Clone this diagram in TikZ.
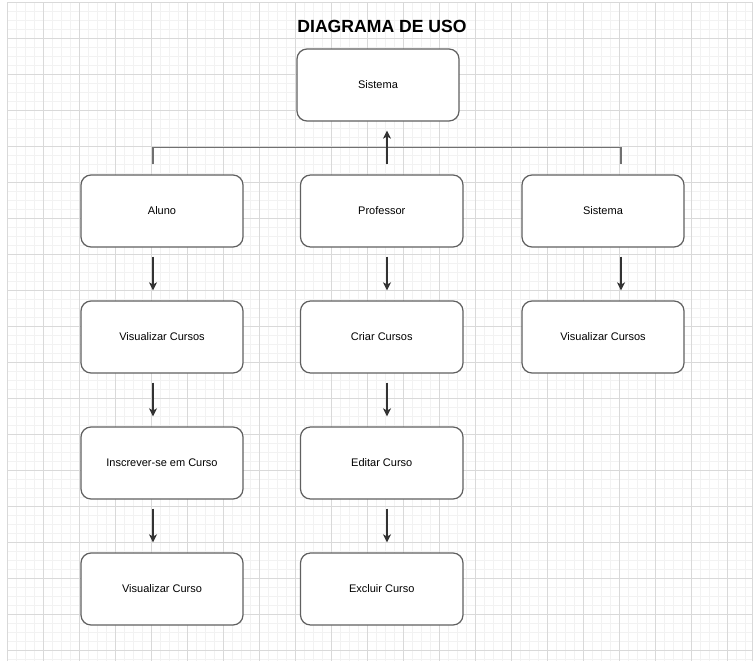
\documentclass[tikz,border=0pt]{standalone}
\usepackage{fontspec}
\setmainfont{Liberation Sans}
\usetikzlibrary{arrows.meta,calc}
\definecolor{boxgray}{HTML}{606060}
\definecolor{arrowgray}{HTML}{333333}
\definecolor{busgray}{HTML}{707070}
\definecolor{majorgrid}{HTML}{D9D9D9}
\definecolor{minorgrid}{HTML}{F2F2F2}
\begin{document}
\begin{tikzpicture}[x=1pt,y=-1pt,
  box/.style={draw=boxgray, line width=1.2pt, rounded corners=10pt, fill=white,
    minimum width=162pt, minimum height=72pt, inner sep=0pt,
    font=\fontsize{11}{13}\selectfont},
  flow/.style={draw=arrowgray, line width=1.2pt, -{Stealth[length=8pt,width=8pt,inset=2pt]}},
  bus/.style={draw=busgray, line width=1.5pt},
  titlestyle/.style={font=\fontsize{17.6}{20}\selectfont\bfseries, inner sep=0pt}]
\useasboundingbox (0,0) rectangle (754,661);
\fill[white] (0,0) rectangle (754,661);
% grid
\foreach \i in {0,...,83} {
  \draw[minorgrid, line width=0.8pt] ({7.3+9*\i},2.3) -- ({7.3+9*\i},661);
}
\foreach \j in {0,...,73} {
  \draw[minorgrid, line width=0.8pt] (7.3,{2.3+9*\j}) -- (752,{2.3+9*\j});
}
\foreach \i in {0,...,20} {
  \draw[majorgrid, line width=0.8pt] ({7.3+36*\i},2.3) -- ({7.3+36*\i},661);
}
\foreach \j in {0,...,18} {
  \draw[majorgrid, line width=0.8pt] (7.3,{2.3+36*\j}) -- (752,{2.3+36*\j});
}
\draw[majorgrid, line width=1pt] (7.3,661) -- (7.3,2.3) -- (752,2.3) -- (752,661);
% title
\node[titlestyle] (title) at (382,26) {DIAGRAMA DE USO};
% nodes
\node[box] (sis) at (378,85) {Sistema};
\node[box] (aluno) at (162,211) {Aluno};
\node[box, minimum width=162.5pt] (prof) at (381.75,211) {Professor};
\node[box] (sisr) at (603,211) {Sistema};
\node[box] (vcursos) at (162,337) {Visualizar Cursos};
\node[box, minimum width=162.5pt] (criar) at (381.75,337) {Criar Cursos};
\node[box] (vcursosr) at (603,337) {Visualizar Cursos};
\node[box] (inscrever) at (162,463) {Inscrever-se em Curso};
\node[box, minimum width=162.5pt] (editar) at (381.75,463) {Editar Curso};
\node[box] (vcurso) at (162,589) {Visualizar Curso};
\node[box, minimum width=162.5pt] (excluir) at (381.75,589) {Excluir Curso};
% bus
\draw[bus] ($(aluno.north)+(-9,-10)$) |- ($(sisr.north)+(18,-27)$) -- ($(sisr.north)+(18,-10)$);
\draw[flow] ($(prof.north)+(5.25,-10)$) -- ($(sis.south)+(9,9)$);
% arrows
\draw[flow] ($(aluno.south)+(-9,9)$) -- ($(vcursos.north)+(-9,-10)$);
\draw[flow] ($(vcursos.south)+(-9,9)$) -- ($(inscrever.north)+(-9,-10)$);
\draw[flow] ($(inscrever.south)+(-9,9)$) -- ($(vcurso.north)+(-9,-10)$);
\draw[flow] ($(prof.south)+(5.25,9)$) -- ($(criar.north)+(5.25,-10)$);
\draw[flow] ($(criar.south)+(5.25,9)$) -- ($(editar.north)+(5.25,-10)$);
\draw[flow] ($(editar.south)+(5.25,9)$) -- ($(excluir.north)+(5.25,-10)$);
\draw[flow] ($(sisr.south)+(18,9)$) -- ($(vcursosr.north)+(18,-10)$);
\end{tikzpicture}
\end{document}
